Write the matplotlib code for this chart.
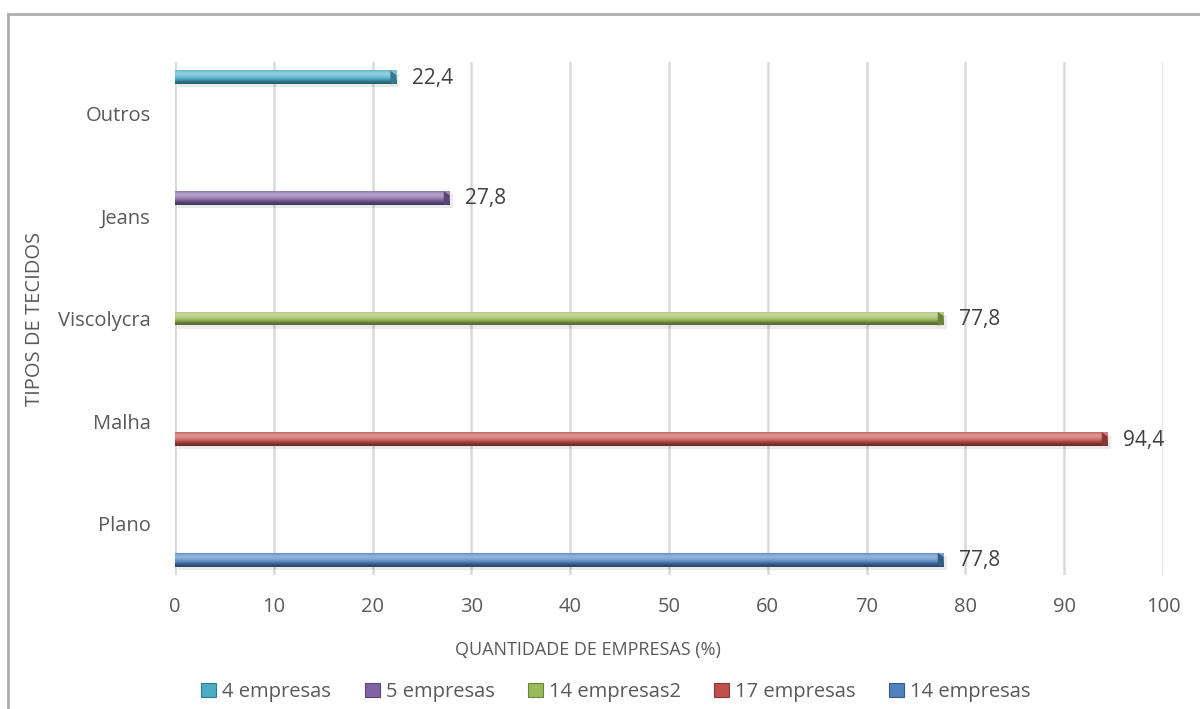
import numpy as np
import matplotlib
matplotlib.use("Agg")
import matplotlib.pyplot as plt
from matplotlib.patches import Patch
from matplotlib.colors import to_rgb, LinearSegmentedColormap

plt.rcParams['font.family'] = ['Open Sans', 'DejaVu Sans']

categories = ["Plano", "Malha", "Viscolycra", "Jeans", "Outros"]
series_names = ["4 empresas", "5 empresas", "14 empresas2", "17 empresas", "14 empresas"]
values = {
    "4 empresas":   [0, 0, 0, 0, 22.4],
    "5 empresas":   [0, 0, 0, 27.8, 0],
    "14 empresas2": [0, 0, 77.8, 0, 0],
    "17 empresas":  [0, 94.4, 0, 0, 0],
    "14 empresas":  [77.8, 0, 0, 0, 0],
}
series_list = [values[k] for k in values]
colors = ["#4BACC6", "#8064A2", "#9BBB59", "#C0504D", "#4F81BD"]
xticks = [0, 10, 20, 30, 40, 50, 60, 70, 80, 90, 100]

txt = "#595959"
fs = 14.5

fig = plt.figure(figsize=(12, 7.09), dpi=100)
ax = fig.add_axes([175/1200, 1-575/709, (1163-175)/1200, (575-62)/709])

def shade(c, f):
    r = np.array(to_rgb(c))
    if f >= 0:
        return tuple(r + (1 - r) * f)
    return tuple(r * (1 + f))

ypos = np.arange(len(categories))
step = 0.175
h = 0.135
for j, (name, vals, col) in enumerate(zip(series_names, series_list, colors)):
    off = (2 - j) * step
    yy = ypos + off
    v = np.array(vals)
    mask = v > 0
    # soft shadow
    ax.barh(yy[mask] - 0.03, v[mask], height=h, left=0.3, color="#000000", alpha=0.08,
            zorder=2, linewidth=0)
    bars = ax.barh(yy[mask], v[mask], height=h, color=col, zorder=3, linewidth=0)
    cmap = LinearSegmentedColormap.from_list(
        "g", [shade(col, -0.45), shade(col, -0.35), shade(col, -0.05), shade(col, 0.2),
              shade(col, 0.38), shade(col, 0.38), shade(col, 0.1)])
    grad = np.linspace(0, 1, 64).reshape(-1, 1)
    for b in bars:
        x0, y0, w, hh = b.get_x(), b.get_y(), b.get_width(), b.get_height()
        im = ax.imshow(grad, cmap=cmap, aspect="auto", origin="lower",
                       extent=[x0, x0 + w, y0, y0 + hh], zorder=4, interpolation="bilinear")
        im.set_clip_path(b)
        # right-end bevel
        ax.fill([x0 + w - 0.6, x0 + w, x0 + w, x0 + w - 0.6],
                [y0 + hh, y0 + hh * 0.7, y0 + hh * 0.05, y0],
                color=shade(col, -0.3), zorder=5, linewidth=0)
        ax.fill([x0 + w - 0.6, x0 + w, x0 + w],
                [y0 + hh, y0 + hh, y0 + hh * 0.7],
                color=shade(col, 0.25), zorder=5, linewidth=0)
        ax.text(x0 + w + 1.6, y0 + hh / 2 - 0.01, f"{w:.1f}".replace(".", ","),
                va="center", ha="left", fontsize=15, color="#404040", zorder=6)

ax.set_xlim(0, 100)
ax.set_ylim(-0.5, len(categories) - 0.5)
ax.set_xticks(xticks)
ax.set_xticklabels([str(t) for t in xticks], fontsize=fs, color=txt)
ax.set_yticks(ypos)
ax.set_yticklabels(categories, fontsize=fs, color=txt)
ax.tick_params(axis="both", length=0)
ax.tick_params(axis="x", pad=16)
ax.tick_params(axis="y", pad=17.5)
ax.grid(axis="x", color="#D9D9D9", linewidth=1.8, zorder=0)
ax.set_axisbelow(True)
for s in ax.spines.values():
    s.set_visible(False)
ax.axvline(0, color="#D9D9D9", linewidth=1.8, zorder=1)

fig.text(588/1200, 1-650/709, "QUANTIDADE DE EMPRESAS (%)", ha="center", va="center",
         fontsize=13, color=txt)
fig.text(35/1200, 1-319/709, "TIPOS DE TECIDOS", ha="center", va="center",
         rotation=90, fontsize=14.5, color=txt)

handles = [Patch(facecolor=c, edgecolor=shade(c, -0.3), linewidth=0.8) for c in colors]
fig.legend(handles, series_names, loc="center", bbox_to_anchor=(616/1200, 1-692/709),
           ncol=5, frameon=False, fontsize=fs, handlelength=0.75, handleheight=0.75,
           handletextpad=0.3, columnspacing=1.65, labelcolor=txt)

# chart frame (left and top)
fig.add_artist(plt.Line2D([8/1200, 8/1200], [0, 1-14/709], color="#AFAFAF", linewidth=2,
                          transform=fig.transFigure))
fig.add_artist(plt.Line2D([8/1200, 1], [1-14/709, 1-14/709], color="#AFAFAF", linewidth=2,
                          transform=fig.transFigure))

fig.savefig("out.png", dpi=100, facecolor="white")
